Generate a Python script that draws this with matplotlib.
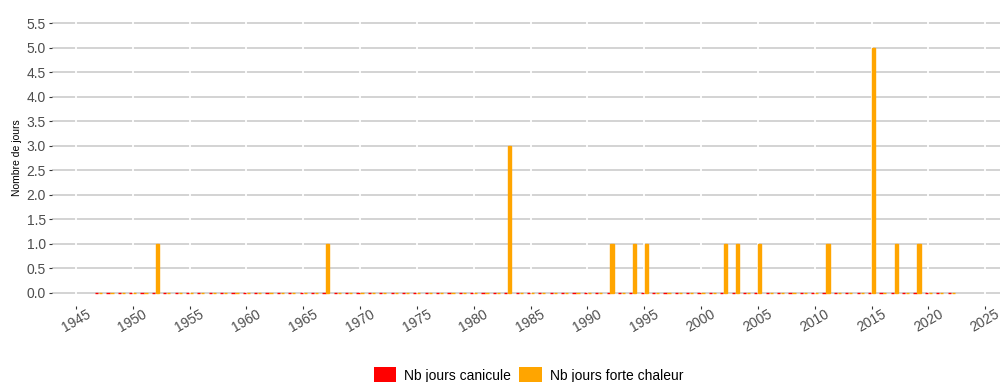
import matplotlib.pyplot as plt
from matplotlib.patches import Patch
import numpy as np

plt.rcParams['font.family'] = ['Liberation Sans', 'DejaVu Sans']

# --- DATA ---
years = list(range(1947, 2023))
canicule = [0, 0, 0,
            0, 0, 0, 0, 0, 0, 0, 0, 0, 0,
            0, 0, 0, 0, 0, 0, 0, 0, 0, 0,
            0, 0, 0, 0, 0, 0, 0, 0, 0, 0,
            0, 0, 0, 0, 0, 0, 0, 0, 0, 0,
            0, 0, 0, 0, 0, 0, 0, 0, 0, 0,
            0, 0, 0, 0, 0, 0, 0, 0, 0, 0,
            0, 0, 0, 0, 0, 0, 0, 0, 0, 0,
            0, 0, 0]
forte_chaleur = [0, 0, 0,
                 0, 0, 1, 0, 0, 0, 0, 0, 0, 0,
                 0, 0, 0, 0, 0, 0, 0, 1, 0, 0,
                 0, 0, 0, 0, 0, 0, 0, 0, 0, 0,
                 0, 0, 0, 3, 0, 0, 0, 0, 0, 0,
                 0, 0, 1, 0, 1, 1, 0, 0, 0, 0,
                 0, 0, 1, 1, 0, 1, 0, 0, 0, 0,
                 0, 1, 0, 0, 0, 5, 0, 1, 0, 1,
                 0, 0, 0]
x_ticks = [1945, 1950, 1955, 1960, 1965, 1970, 1975, 1980, 1985,
           1990, 1995, 2000, 2005, 2010, 2015, 2020, 2025]
y_ticks = [0.0, 0.5, 1.0, 1.5, 2.0, 2.5, 3.0, 3.5, 4.0, 4.5, 5.0, 5.5]

labels = ["Nb jours canicule", "Nb jours forte chaleur"]
colors = ["#FF0000", "#FFA500"]

# --- PLOT ---
fig = plt.figure(figsize=(10.03, 3.82), dpi=100)
ax = fig.add_axes([0.0518, 0.198, 0.9452, 0.777])

yrs = np.asarray(years)
bw = 0.28
off = 0.175
ax.bar(yrs - off, canicule, width=bw, color=colors[0], edgecolor=colors[0],
       linewidth=1.0, zorder=2)
ax.bar(yrs + off, forte_chaleur, width=bw, color=colors[1], edgecolor=colors[1],
       linewidth=1.0, zorder=2)

ax.set_xlim(1942.9, 2026.3)
ax.set_ylim(-0.275, 5.775)
ax.set_xticks(x_ticks)
ax.set_yticks(y_ticks)
ax.set_yticklabels([f"{v:.1f}" for v in y_ticks])

ax.set_axisbelow(True)
ax.grid(axis='y', color='#C8C8C8', linewidth=1.1)
for t in x_ticks:
    ax.axvline(t, color='white', linewidth=1.3, zorder=1)

for s in ax.spines.values():
    s.set_visible(False)

ax.tick_params(axis='both', colors='#333333', length=2.5, width=0.8,
               labelcolor='#4D4D4D', labelsize=10)
ax.tick_params(axis='x', pad=-2)
ax.tick_params(axis='y', pad=2)
plt.setp(ax.get_xticklabels(), rotation=30, ha='center')

ax.set_ylabel("Nombre de jours", fontsize=7.5, color='black', labelpad=3)

handles = [Patch(facecolor=c, edgecolor='none') for c in colors]
fig.legend(handles, labels, loc='center', bbox_to_anchor=(0.527, 0.016),
           ncol=2, frameon=False, fontsize=10, handlelength=1.6,
           handleheight=1.6, handletextpad=0.6, columnspacing=0.6,
           borderpad=0, borderaxespad=0)

plt.savefig('out.png', dpi=100)
